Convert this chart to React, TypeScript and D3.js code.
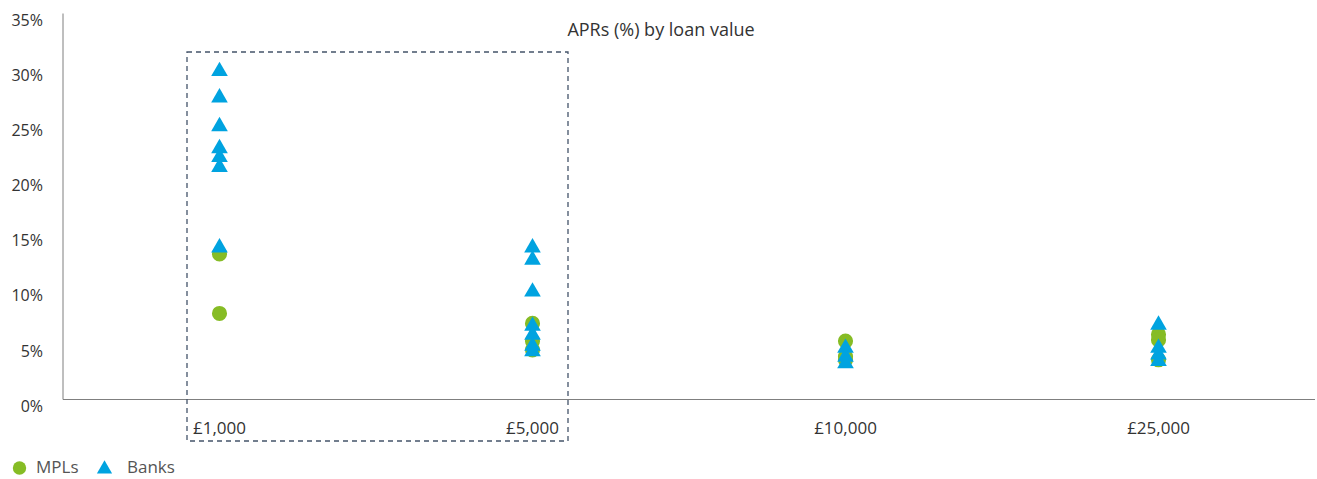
import React, { useEffect, useRef } from "react";
import * as d3 from "d3";

const WIDTH = 1317;
const HEIGHT = 479;

const loanValues = ["£1,000", "£5,000", "£10,000", "£25,000"];
const yTicks = [0, 5, 10, 15, 20, 25, 30, 35];

// APR readings (%) per loan value
const mplLoan = ["£1,000", "£1,000", "£5,000", "£5,000", "£5,000", "£10,000", "£10,000", "£10,000", "£25,000", "£25,000", "£25,000"];
const mplApr = [13.2, 7.8, 6.9, 5.3, 4.5, 5.3, 3.9, 3.6, 5.9, 5.4, 3.6];

const bankLoan = [
  "£1,000", "£1,000", "£1,000", "£1,000", "£1,000", "£1,000", "£1,000",
  "£5,000", "£5,000", "£5,000", "£5,000", "£5,000", "£5,000", "£5,000",
  "£10,000", "£10,000", "£10,000",
  "£25,000", "£25,000", "£25,000", "£25,000",
];
const bankApr = [
  29.9, 27.5, 24.9, 22.9, 22.1, 21.2, 13.9,
  13.9, 12.8, 9.9, 6.8, 6.0, 5.0, 4.5,
  4.8, 4.0, 3.4,
  6.9, 4.8, 4.2, 3.6,
];

const GREEN = "#86bc25";
const BLUE = "#00a3e0";
const TEXT = "#333";

const App = () => {
  const svgRef = useRef<SVGSVGElement>(null);

  useEffect(() => {
    const svg = d3.select(svgRef.current);
    svg.selectAll("*").remove();

    const left = 63;
    const right = 1315;
    const top = 13.5;
    const bottom = 399.5;

    const x = d3.scaleBand().domain(loanValues).range([left, right]);
    const y = d3.scaleLinear().domain([0, 35]).range([bottom, top]);
    const cx = (k: string) => (x(k) as number) + x.bandwidth() / 2;

    const font = "'Open Sans', sans-serif";

    // axes
    svg.append("line")
      .attr("x1", left).attr("x2", left)
      .attr("y1", top).attr("y2", bottom)
      .attr("stroke", "#7f7f7f").attr("stroke-width", 1);
    svg.append("line")
      .attr("x1", left).attr("x2", right)
      .attr("y1", bottom).attr("y2", bottom)
      .attr("stroke", "#7f7f7f").attr("stroke-width", 1);

    svg.append("g")
      .selectAll("text")
      .data(yTicks)
      .join("text")
      .attr("x", 43)
      .attr("y", d => y(d) + 8)
      .attr("text-anchor", "end")
      .attr("dominant-baseline", "middle")
      .attr("font-family", font)
      .attr("font-size", 16)
      .attr("fill", TEXT)
      .text(d => `${d}%`);

    svg.append("g")
      .selectAll("text")
      .data(loanValues)
      .join("text")
      .attr("x", d => cx(d))
      .attr("y", 429)
      .attr("text-anchor", "middle")
      .attr("dominant-baseline", "middle")
      .attr("font-family", font)
      .attr("font-size", 17)
      .attr("fill", TEXT)
      .text(d => d);

    // title
    svg.append("text")
      .attr("x", 661)
      .attr("y", 31)
      .attr("text-anchor", "middle")
      .attr("dominant-baseline", "middle")
      .attr("font-family", font)
      .attr("font-size", 18)
      .attr("fill", TEXT)
      .text("APRs (%) by loan value");

    // highlight box around the smaller loans
    const boxL = cx("£1,000") - 32.5;
    const boxR = cx("£5,000") + 35.5;
    svg.append("rect")
      .attr("x", boxL)
      .attr("y", 52)
      .attr("width", boxR - boxL)
      .attr("height", 441 - 52)
      .attr("fill", "none")
      .attr("stroke", "#44546a")
      .attr("stroke-width", 1.3)
      .attr("stroke-dasharray", "5 4");

    const circle = d3.symbol().type(d3.symbolCircle).size(180);
    const tri = d3.symbol().type(d3.symbolTriangle).size(120);

    svg.append("g")
      .selectAll("path")
      .data(mplApr.map((v, i) => ({ k: mplLoan[i], v })))
      .join("path")
      .attr("d", circle)
      .attr("transform", d => `translate(${cx(d.k)},${y(d.v)})`)
      .attr("fill", GREEN);

    svg.append("g")
      .selectAll("path")
      .data(bankApr.map((v, i) => ({ k: bankLoan[i], v })))
      .join("path")
      .attr("d", tri)
      .attr("transform", d => `translate(${cx(d.k)},${y(d.v) + 1.5})`)
      .attr("fill", BLUE);

    // legend
    const lg = svg.append("g").attr("transform", "translate(0,468)");
    lg.append("path").attr("d", d3.symbol().type(d3.symbolCircle).size(140))
      .attr("transform", "translate(19.5,0)").attr("fill", GREEN);
    lg.append("text").attr("x", 36).attr("y", 0)
      .attr("dominant-baseline", "middle")
      .attr("font-family", font).attr("font-size", 17).attr("fill", "#555")
      .text("MPLs");
    lg.append("path").attr("d", d3.symbol().type(d3.symbolTriangle).size(100))
      .attr("transform", "translate(104.5,1)").attr("fill", BLUE);
    lg.append("text").attr("x", 127).attr("y", 0)
      .attr("dominant-baseline", "middle")
      .attr("font-family", font).attr("font-size", 17).attr("fill", "#555")
      .text("Banks");
  }, []);

  return (
    <>
      <style>{"body{margin:0}"}</style>
      <svg ref={svgRef} width={WIDTH} height={HEIGHT} style={{ display: "block" }} />
    </>
  );
};

export default App;
